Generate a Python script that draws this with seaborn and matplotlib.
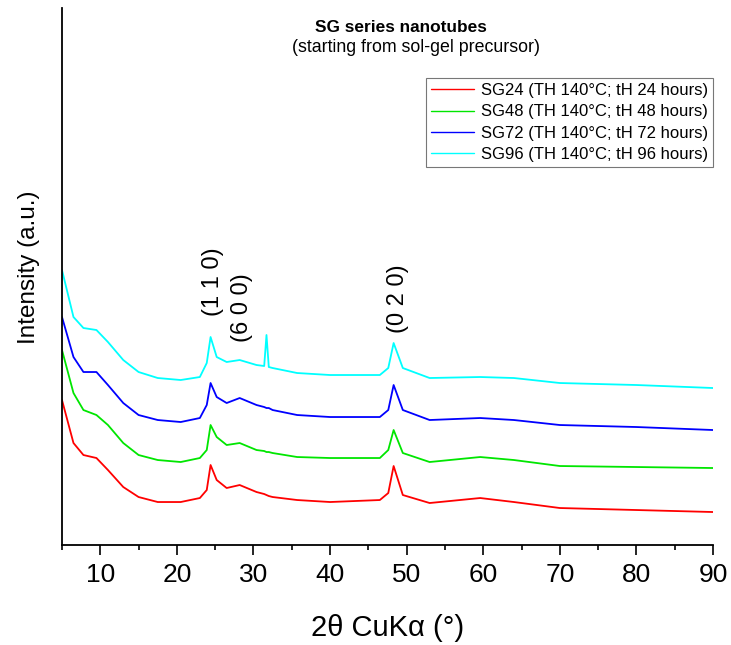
import numpy as np
import pandas as pd
import matplotlib
matplotlib.use("Agg")
import matplotlib.pyplot as plt
import seaborn as sns

# 2-theta positions (degrees) at which the patterns are sampled
two_theta = [5, 6.5, 7.8, 9.5, 11, 13, 15, 17.5, 20.5, 23, 23.9, 24.4, 25.2,
             26.5, 28.2, 30.4, 31.4, 31.7, 32.0, 32.5, 35.7, 40, 46.5, 47.6,
             48.3, 49.5, 53, 59.6, 64, 70, 80, 90]

# Offset intensities (a.u.) for each sample
sg24 = [145, 102, 90, 87, 75, 58, 48, 43, 43, 47, 55, 80, 65,
        57, 60, 53, 51, 50, 49, 48, 45, 43, 45, 52,
        79, 50, 42, 47, 43, 37, 35, 33]
sg48 = [195, 152, 135, 130, 120, 102, 90, 85, 83, 87, 95, 120, 108,
        100, 102, 95, 94, 93, 93, 92, 88, 87, 87, 95,
        115, 92, 83, 88, 85, 79, 78, 77]
sg72 = [228, 188, 173, 173, 160, 142, 130, 125, 123, 127, 140, 162, 148,
        142, 147, 140, 138, 137, 137, 135, 130, 128, 128, 135,
        160, 135, 125, 127, 125, 120, 118, 115]
sg96 = [275, 228, 217, 215, 203, 185, 173, 167, 165, 168, 182, 208, 188,
        183, 185, 180, 179, 210, 178, 177, 172, 170, 170, 177,
        202, 177, 167, 168, 167, 162, 160, 157]

series_labels = ["SG24 (TH 140°C; tH 24 hours)",
                 "SG48 (TH 140°C; tH 48 hours)",
                 "SG72 (TH 140°C; tH 72 hours)",
                 "SG96 (TH 140°C; tH 96 hours)"]
series_colors = ["#ff0000", "#00e600", "#0000ff", "#00ffff"]

peak_labels = ["(1 1 0)", "(6 0 0)", "(0 2 0)"]
peak_pos = [24.7, 28.5, 48.9]
peak_y = [263, 237, 246]

x_ticks = [10, 20, 30, 40, 50, 60, 70, 80, 90]

df = pd.concat([
    pd.DataFrame({"two_theta": two_theta, "intensity": vals, "sample": lab})
    for vals, lab in zip([sg24, sg48, sg72, sg96], series_labels)
])

sns.set_theme(style="white")
plt.rcParams["font.family"] = ["Liberation Sans", "DejaVu Sans"]
plt.rcParams["text.color"] = "black"
plt.rcParams["axes.labelcolor"] = "black"
plt.rcParams["xtick.color"] = "black"

fig = plt.figure(figsize=(7.31, 6.45), dpi=100)
ax = fig.add_axes([0.0848, 0.155, 0.8906, 0.8326])

sns.lineplot(data=df, x="two_theta", y="intensity", hue="sample",
             hue_order=series_labels, palette=series_colors,
             linewidth=1.3, ax=ax, legend=False, sort=False)

ax.set_xlim(5, 90)
ax.set_ylim(0, 537)
ax.set_xticks(x_ticks)
ax.set_xticks(np.arange(5, 90, 10), minor=True)
ax.set_yticks([])
ax.tick_params(axis="x", which="major", direction="out", length=7.2, width=1.2,
               color="black", labelcolor="black", labelsize=19, pad=6,
               bottom=True)
ax.tick_params(axis="x", which="minor", direction="out", length=3.6, width=1.2,
               color="black", bottom=True)

for side in ["top", "right"]:
    ax.spines[side].set_visible(False)
for side in ["left", "bottom"]:
    ax.spines[side].set_color("black")
    ax.spines[side].set_linewidth(1.3)

ax.set_xlabel("2θ CuKα (°)", fontsize=21, labelpad=19)
ax.set_ylabel("Intensity (a.u.)", fontsize=17.5)
ax.yaxis.set_label_coords((40 - 62) / 651, (545 - 267) / 537)

for lab, xp, yp in zip(peak_labels, peak_pos, peak_y):
    ax.text(xp, yp, lab, rotation=90, ha="center", va="center",
            fontsize=17)

fig.text(401 / 731, 1 - 27 / 645, "SG series nanotubes", ha="center",
         va="center", fontsize=12.4, fontweight="bold")
fig.text(416 / 731, 1 - 47 / 645, "(starting from sol-gel precursor)",
         ha="center", va="center", fontsize=12.8)

handles = [plt.Line2D([], [], color=c, lw=1.0) for c in series_colors]
leg = ax.legend(handles, series_labels, loc="upper right",
                bbox_to_anchor=(1.0, (545 - 78) / 537), fontsize=12,
                frameon=True, fancybox=False, edgecolor="#555555",
                handlelength=2.6, handletextpad=0.4, borderpad=0.3,
                labelspacing=0.38, borderaxespad=0.0)
leg.get_frame().set_linewidth(0.8)
for t in leg.get_texts():
    t.set_color("black")

fig.savefig("out.png", dpi=100)
